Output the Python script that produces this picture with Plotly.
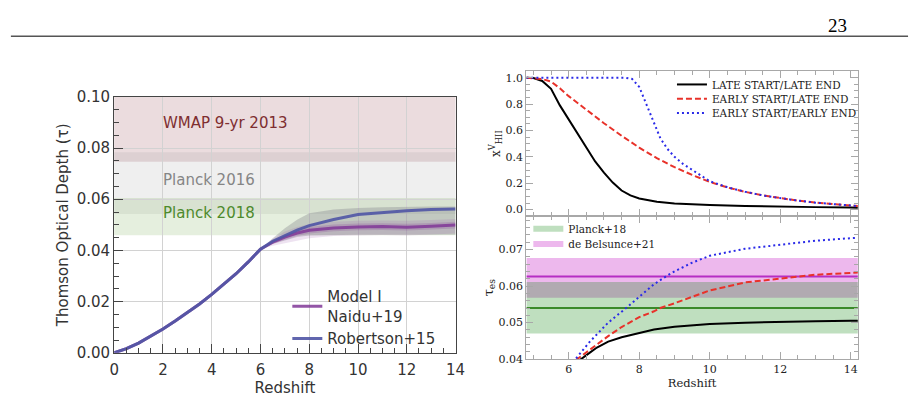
import plotly.graph_objects as go

W, H = 921, 400

# ---------------- left figure data ----------------
z_left = [0, 0.5, 1, 1.5, 2, 2.5, 3, 3.5, 4, 4.5, 5, 5.5, 6, 6.5, 7, 7.5, 8, 9, 10, 11, 12, 13, 14]
tau_robertson = [0, 0.0016, 0.0038, 0.0064, 0.0093, 0.0124, 0.0156, 0.0191, 0.0228, 0.0267, 0.0309, 0.0355, 0.0405,
                 0.0436, 0.0458, 0.0479, 0.0497, 0.0521, 0.0540, 0.0548, 0.0555, 0.0560, 0.0562]
tau_robertson_lo = [0, 0.0016, 0.0038, 0.0064, 0.0093, 0.0124, 0.0156, 0.0191, 0.0228, 0.0267, 0.0309, 0.0355, 0.0405,
                    0.0425, 0.0440, 0.0452, 0.0458, 0.0460, 0.0461, 0.0461, 0.0461, 0.0461, 0.0461]
tau_robertson_hi = [0, 0.0016, 0.0038, 0.0064, 0.0093, 0.0124, 0.0156, 0.0191, 0.0228, 0.0267, 0.0309, 0.0355, 0.0405,
                    0.0448, 0.0487, 0.0520, 0.0545, 0.0560, 0.0566, 0.0569, 0.0571, 0.0572, 0.0572]
tau_naidu = [0, 0.0016, 0.0038, 0.0064, 0.0093, 0.0124, 0.0156, 0.0191, 0.0228, 0.0267, 0.0309, 0.0355, 0.0405,
             0.0432, 0.0452, 0.0468, 0.0479, 0.0488, 0.0492, 0.0493, 0.0491, 0.0494, 0.0499]
tau_naidu_outer_lo = [0, 0.0016, 0.0038, 0.0064, 0.0093, 0.0124, 0.0156, 0.0191, 0.0228, 0.0267, 0.0309, 0.0355, 0.0405,
                      0.0418, 0.0428, 0.0440, 0.0448, 0.0456, 0.0459, 0.0460, 0.0458, 0.0461, 0.0466]
tau_naidu_outer_hi = [0, 0.0016, 0.0038, 0.0064, 0.0093, 0.0124, 0.0156, 0.0191, 0.0228, 0.0267, 0.0309, 0.0355, 0.0405,
                      0.0445, 0.0474, 0.0492, 0.0503, 0.0512, 0.0516, 0.0517, 0.0516, 0.0519, 0.0523]
tau_naidu_inner_lo = [0, 0.0016, 0.0038, 0.0064, 0.0093, 0.0124, 0.0156, 0.0191, 0.0228, 0.0267, 0.0309, 0.0355, 0.0405,
                      0.0426, 0.0442, 0.0456, 0.0466, 0.0475, 0.0479, 0.0480, 0.0478, 0.0481, 0.0486]
tau_naidu_inner_hi = [0, 0.0016, 0.0038, 0.0064, 0.0093, 0.0124, 0.0156, 0.0191, 0.0228, 0.0267, 0.0309, 0.0355, 0.0405,
                      0.0438, 0.0462, 0.0480, 0.0492, 0.0501, 0.0505, 0.0506, 0.0504, 0.0507, 0.0512]

# observational bands (label, low, high)
band_labels = ["WMAP 9-yr 2013", "Planck 2016", "Planck 2018"]
band_low = [0.0746, 0.0542, 0.0459]
band_high = [0.103, 0.0784, 0.0605]
band_label_y = [0.0896, 0.0675, 0.0545]

# ---------------- right figure data ----------------
z_top_black = [4.8, 5.0, 5.25, 5.5, 5.75, 6.0, 6.25, 6.5, 6.75, 7.0, 7.25, 7.5, 7.75, 8.0, 8.5, 9.0, 9.5, 10, 11, 12, 13, 14, 14.2]
xhii_late_late = [1.0, 0.998, 0.975, 0.916, 0.79, 0.685, 0.575, 0.465, 0.365, 0.28, 0.205, 0.145, 0.108, 0.085, 0.06,
                  0.047, 0.040, 0.035, 0.028, 0.022, 0.019, 0.016, 0.015]
z_top_red = [4.8, 5.0, 5.25, 5.5, 5.75, 6.0, 6.5, 7.0, 7.5, 8.0, 8.5, 9.0, 9.5, 10, 10.5, 11, 11.5, 12, 12.5, 13, 13.5, 14, 14.2]
xhii_early_late = [1.0, 0.998, 0.99, 0.97, 0.92, 0.86, 0.755, 0.655, 0.56, 0.47, 0.39, 0.322, 0.263, 0.21, 0.168, 0.135,
                   0.108, 0.087, 0.068, 0.053, 0.04, 0.03, 0.027]
z_top_blue = [4.8, 7.6, 7.8, 8.0, 8.2, 8.4, 8.6, 8.8, 9.0, 9.25, 9.5, 9.75, 10, 10.5, 11, 11.5, 12, 12.5, 13, 13.5, 14, 14.2]
xhii_early_early = [1.0, 1.0, 0.99, 0.93, 0.80, 0.67, 0.54, 0.46, 0.40, 0.345, 0.30, 0.255, 0.215, 0.17, 0.136,
                    0.108, 0.087, 0.068, 0.053, 0.04, 0.03, 0.027]

z_bot_black = [6.0, 6.33, 6.6, 6.8, 7.12, 7.5, 8.0, 8.42, 9.0, 9.5, 10, 11, 12, 13, 14, 14.2]
tau_late_late = [0.0375, 0.0400, 0.0418, 0.0432, 0.0448, 0.0460, 0.0472, 0.0481, 0.0489, 0.0493, 0.0496, 0.0500,
                 0.0503, 0.0504, 0.0505, 0.0505]
z_bot_red = [6.0, 6.24, 6.6, 7.12, 7.5, 8.0, 8.42, 8.6, 9.0, 9.5, 10, 11, 12, 12.5, 13, 14, 14.2]
tau_early_late = [0.0383, 0.0400, 0.0428, 0.0463, 0.0488, 0.0515, 0.0531, 0.0540, 0.0553, 0.0570, 0.0588, 0.0610,
                  0.0621, 0.0627, 0.0631, 0.0636, 0.0637]
z_bot_blue = [6.0, 6.19, 6.6, 7.12, 7.68, 8.0, 8.42, 8.75, 9.0, 9.48, 10, 11, 12, 13, 14, 14.2]
tau_early_early = [0.0384, 0.0400, 0.0448, 0.0500, 0.0544, 0.0570, 0.0605, 0.0626, 0.0640, 0.0663, 0.0683, 0.0702,
                   0.0713, 0.0724, 0.0731, 0.0732]

planck18 = dict(name="Planck+18", mid=0.0540, low=0.0470, high=0.0611)
belsunce21 = dict(name="de Belsunce+21", mid=0.0626, low=0.0568, high=0.0677)

# ---------------- geometry ----------------
L_X = [111 / W, 458 / W]
L_Y = [1 - 360 / H, 1 - 92 / H]
R_X = [530 / W, 867 / W]
RT_Y = [1 - 217 / H, 1 - 65 / H]
RB_Y = [1 - 366.7 / H, 1 - 217 / H]
R_RANGE = [4.8, 14.2]

fig = go.Figure()


def band(x, lo, hi, color, xa, ya):
    fig.add_trace(go.Scatter(x=x, y=lo, mode="lines", line=dict(width=0), showlegend=False,
                             hoverinfo="skip", xaxis=xa, yaxis=ya))
    fig.add_trace(go.Scatter(x=x, y=hi, mode="lines", line=dict(width=0), fill="tonexty",
                             fillcolor=color, showlegend=False, hoverinfo="skip", xaxis=xa, yaxis=ya))


band(z_left, tau_robertson_lo, tau_robertson_hi, "rgba(120,120,130,0.32)", "x", "y")
band(z_left, tau_naidu_outer_lo, tau_naidu_outer_hi, "rgba(150,80,170,0.16)", "x", "y")
band(z_left, tau_naidu_inner_lo, tau_naidu_inner_hi, "rgba(130,60,150,0.22)", "x", "y")

fig.add_trace(go.Scatter(x=z_left, y=tau_naidu, mode="lines", name="Model I<br>Naidu+19",
                         line=dict(color="rgba(128,55,150,0.85)", width=3), xaxis="x", yaxis="y", legend="legend"))
fig.add_trace(go.Scatter(x=z_left, y=tau_robertson, mode="lines", name="Robertson+15",
                         line=dict(color="rgba(80,85,165,0.9)", width=3), xaxis="x", yaxis="y", legend="legend"))

# right top panel
fig.add_trace(go.Scatter(x=z_top_black, y=xhii_late_late, mode="lines", name="LATE START/LATE END",
                         line=dict(color="black", width=2), xaxis="x2", yaxis="y2", legend="legend4"))
fig.add_trace(go.Scatter(x=z_top_red, y=xhii_early_late, mode="lines", name="EARLY START/LATE END",
                         line=dict(color="#e8322a", width=2, dash="6px,3px"), xaxis="x2", yaxis="y2", legend="legend5"))
fig.add_trace(go.Scatter(x=z_top_blue, y=xhii_early_early, mode="lines", name="EARLY START/EARLY END",
                         line=dict(color="#2a2ae8", width=2, dash="2px,3px"), xaxis="x2", yaxis="y2", legend="legend6"))

# right bottom panel: bands (purple first, green over it)
for b, fc, lg in [(belsunce21, "rgba(191,0,191,0.28)", "legend3"),
                  (planck18, "rgba(0,128,0,0.25)", "legend2")]:
    fig.add_trace(go.Scatter(x=[R_RANGE[0], R_RANGE[1], R_RANGE[1], R_RANGE[0]],
                             y=[b["low"], b["low"], b["high"], b["high"]], mode="none", fill="toself",
                             fillcolor=fc, name=b["name"], xaxis="x3", yaxis="y3", legend=lg))
for b, lc in [(planck18, "#3a8a2a"), (belsunce21, "#b62ec4")]:
    fig.add_trace(go.Scatter(x=R_RANGE, y=[b["mid"], b["mid"]], mode="lines", line=dict(color=lc, width=2),
                             showlegend=False, xaxis="x3", yaxis="y3"))

fig.add_trace(go.Scatter(x=z_bot_black, y=tau_late_late, mode="lines", line=dict(color="black", width=2),
                         showlegend=False, xaxis="x3", yaxis="y3"))
fig.add_trace(go.Scatter(x=z_bot_red, y=tau_early_late, mode="lines",
                         line=dict(color="#e8322a", width=2, dash="6px,3px"), showlegend=False, xaxis="x3", yaxis="y3"))
fig.add_trace(go.Scatter(x=z_bot_blue, y=tau_early_early, mode="lines",
                         line=dict(color="#2a2ae8", width=2, dash="2px,3px"), showlegend=False, xaxis="x3", yaxis="y3"))

# ---------------- shapes (left bands) ----------------
band_colors = ["rgba(130,40,50,0.16)", "rgba(128,128,128,0.13)", "rgba(110,165,70,0.18)"]
shapes = []
for lo, hi, c in zip(band_low, band_high, band_colors):
    shapes.append(dict(type="rect", xref="x domain", yref="y", x0=0, x1=1, y0=lo, y1=min(hi, 0.1),
                       fillcolor=c, line=dict(width=0), layer="below"))
# page rule
shapes.append(dict(type="line", xref="paper", yref="paper", x0=6 / W, x1=918 / W, y0=1 - 28.5 / H, y1=1 - 28.5 / H,
                   line=dict(color="#555555", width=1.5)))

sans = dict(family="DejaVu Sans", size=15, color="#333333")
serif = dict(family="DejaVu Serif", size=11, color="#222222")

label_colors = ["#7e2e30", "#858585", "#4d8a2c"]
annotations = []
for t, y, c in zip(band_labels, band_label_y, label_colors):
    annotations.append(dict(text=t, x=1.9, y=y, xref="x", yref="y", xanchor="left", yanchor="middle",
                            showarrow=False, font=dict(family="DejaVu Sans", size=15, color=c)))
annotations.append(dict(text="23", x=858 / W, y=1 - 17 / H, xref="paper", yref="paper", xanchor="right",
                        yanchor="middle", showarrow=False,
                        font=dict(family="Liberation Serif", size=19, color="black")))

left_axis_common = dict(showline=True, linecolor="#444444", linewidth=1.3, mirror=True, ticks="inside",
                        tickcolor="#444444", tickwidth=1.3, ticklen=9, showgrid=True, gridcolor="#d2d2d2",
                        gridwidth=1, zeroline=False, tickfont=sans)
right_axis_common = dict(showline=True, linecolor="#a8a8a8", linewidth=1.2, mirror="allticks", ticks="inside",
                         tickcolor="#a8a8a8", tickwidth=1.1, ticklen=7, showgrid=False, zeroline=False,
                         tickfont=serif)

legend_serif = dict(family="DejaVu Serif", size=10.5, color="#222")

fig.update_layout(
    width=W, height=H, margin=dict(l=0, r=0, t=0, b=0),
    paper_bgcolor="white", plot_bgcolor="white",
    shapes=shapes, annotations=annotations,
    xaxis=dict(domain=L_X, anchor="y", range=[0, 14], tick0=0, dtick=2, ticklabelstandoff=3,
               minor=dict(ticks="inside", ticklen=5, dtick=0.5, tickcolor="#444444", tickwidth=1.1, showgrid=False),
               title=dict(text="Redshift", font=sans, standoff=0), **left_axis_common),
    yaxis=dict(domain=L_Y, anchor="x", range=[0, 0.1], tick0=0, dtick=0.02, tickformat=".2f",
               minor=dict(ticks="inside", ticklen=5, dtick=0.005, tickcolor="#444444", tickwidth=1.1, showgrid=False),
               title=dict(text="Thomson Optical Depth (τ)", font=sans, standoff=4), **left_axis_common),
    xaxis2=dict(domain=R_X, anchor="y2", range=R_RANGE, tick0=0, dtick=2, showticklabels=False, matches="x3",
                minor=dict(ticks="inside", ticklen=4, dtick=0.5, tickcolor="#a8a8a8"), **right_axis_common),
    yaxis2=dict(domain=RT_Y, anchor="x2", range=[-0.05, 1.05], tick0=0, dtick=0.2, tickformat=".1f",
                minor=dict(ticks="inside", ticklen=4, dtick=0.05, tickcolor="#a8a8a8"),
                title=dict(text="x<sup>V</sup><sub>HII</sub>", font=dict(family="DejaVu Serif", size=12, color="#222"),
                           standoff=2), **right_axis_common),
    xaxis3=dict(domain=R_X, anchor="y3", range=R_RANGE, tick0=0, dtick=2,
                minor=dict(ticks="inside", ticklen=4, dtick=0.5, tickcolor="#a8a8a8"),
                title=dict(text="Redshift", font=dict(family="DejaVu Serif", size=11.5, color="#222"), standoff=0),
                **right_axis_common),
    yaxis3=dict(domain=RB_Y, anchor="x3", range=[0.04, 0.0791], tick0=0, dtick=0.01, tickformat=".2f",
                minor=dict(ticks="inside", ticklen=4, dtick=0.002, tickcolor="#a8a8a8"),
                title=dict(text="τ<sub>es</sub>", font=dict(family="DejaVu Serif", size=13, color="#222"), standoff=2),
                **right_axis_common),
    legend=dict(x=287 / W, y=1 - 284 / H, xanchor="left", yanchor="top", bgcolor="rgba(0,0,0,0)",
                font=sans, tracegroupgap=0, traceorder="normal"),
    legend2=dict(x=532 / W, y=1 - 230 / H, xanchor="left", yanchor="middle", bgcolor="rgba(0,0,0,0)",
                 font=legend_serif),
    legend3=dict(x=532 / W, y=1 - 246 / H, xanchor="left", yanchor="middle", bgcolor="rgba(0,0,0,0)",
                 font=legend_serif),
    legend4=dict(x=678 / W, y=1 - 79 / H, xanchor="left", yanchor="middle", bgcolor="rgba(0,0,0,0)",
                 font=legend_serif),
    legend5=dict(x=678 / W, y=1 - 94 / H, xanchor="left", yanchor="middle", bgcolor="rgba(0,0,0,0)",
                 font=legend_serif),
    legend6=dict(x=678 / W, y=1 - 109 / H, xanchor="left", yanchor="middle", bgcolor="rgba(0,0,0,0)",
                 font=legend_serif),
)

fig.write_html("out.html")
